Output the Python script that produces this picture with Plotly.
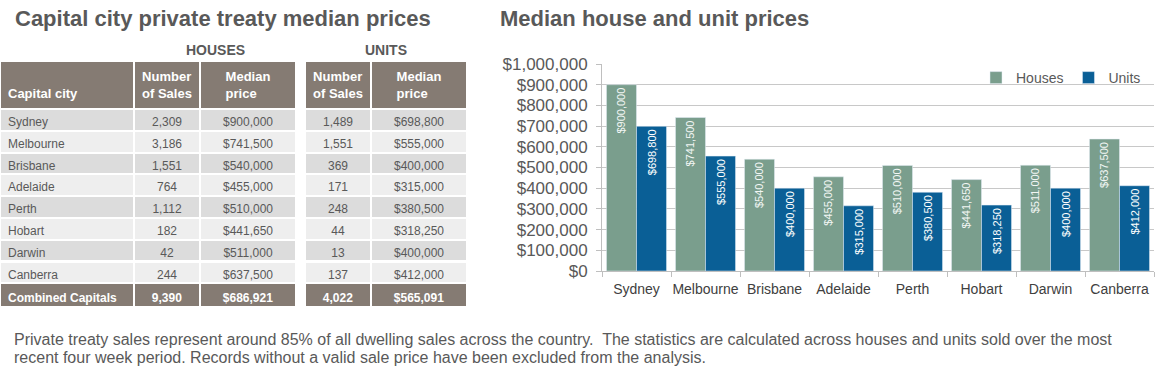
import plotly.graph_objects as go

# ---------------- data ----------------
cities = ["Sydney", "Melbourne", "Brisbane", "Adelaide", "Perth", "Hobart", "Darwin", "Canberra"]
house_sales = [2309, 3186, 1551, 764, 1112, 182, 42, 244]
house_median = [900000, 741500, 540000, 455000, 510000, 441650, 511000, 637500]
unit_sales = [1489, 1551, 369, 171, 248, 44, 13, 137]
unit_median = [698800, 555000, 400000, 315000, 380500, 318250, 400000, 412000]
combined_label = "Combined Capitals"
combined_house_sales = 9390
combined_house_median = 686921
combined_unit_sales = 4022
combined_unit_median = 565091
y_ticks = [0, 100000, 200000, 300000, 400000, 500000, 600000, 700000, 800000, 900000, 1000000]

W, H = 1160, 379
FONT = "Liberation Sans, Arial, sans-serif"
NARROW = "Liberation Sans Narrow, Arial Narrow, sans-serif"
GREY = "#595959"
HOUSE_C = "#7a9e8d"
UNIT_C = "#0a5f96"
HEAD_C = "#857b73"
ROW_DARK = "#dcdcdc"
ROW_LIGHT = "#eeeeee"


def px_x(x):
    return max(0.0, min(1.0, x / W))


def px_y(y):
    return max(0.0, min(1.0, 1 - y / H))


def money(v):
    return "${:,}".format(v)


n = len(cities)
row_fill = [ROW_DARK if i % 2 == 0 else ROW_LIGHT for i in range(n)] + [HEAD_C]
row_font = [GREY] * n + ["white"]

fig = go.Figure()

# ---------------- tables ----------------
col_city = cities + ["<b>" + combined_label + "</b>"]
col_hs = ["{:,}".format(v) for v in house_sales] + ["<b>{:,}</b>".format(combined_house_sales)]
col_hm = [money(v) for v in house_median] + ["<b>" + money(combined_house_median) + "</b>"]
col_us = ["{:,}".format(v) for v in unit_sales] + ["<b>{:,}</b>".format(combined_unit_sales)]
col_um = [money(v) for v in unit_median] + ["<b>" + money(combined_unit_median) + "</b>"]

TAB_TOP, TAB_BOT = 61, 306

fig.add_trace(go.Table(
    domain=dict(x=[px_x(0), px_x(296)], y=[px_y(TAB_BOT), px_y(TAB_TOP)]),
    columnwidth=[134, 66, 96],
    header=dict(
        values=["\u00a0<br><b>Capital city</b>", "<b>Number<br>of Sales</b>", "<b>Median<br>price</b>"],
        fill_color=HEAD_C, line=dict(color="white", width=2),
        align=["left", "center", "center"], height=42,
        font=dict(family=FONT, size=13, color="white"),
    ),
    cells=dict(
        values=[col_city, col_hs, col_hm],
        fill_color=[row_fill, row_fill, row_fill],
        line=dict(color="white", width=2),
        align=["left", "center", "center"], height=21.8,
        font=dict(family=FONT, size=12, color=[row_font, row_font, row_font]),
    ),
))

fig.add_trace(go.Table(
    domain=dict(x=[px_x(305), px_x(468)], y=[px_y(TAB_BOT), px_y(TAB_TOP)]),
    columnwidth=[66, 96],
    header=dict(
        values=["<b>Number<br>of Sales</b>", "<b>Median<br>price</b>"],
        fill_color=HEAD_C, line=dict(color="white", width=2),
        align="center", height=42,
        font=dict(family=FONT, size=13, color="white"),
    ),
    cells=dict(
        values=[col_us, col_um],
        fill_color=[row_fill, row_fill],
        line=dict(color="white", width=2),
        align="center", height=21.8,
        font=dict(family=FONT, size=12, color=[row_font, row_font]),
    ),
))

# ---------------- bar chart ----------------
fig.add_trace(go.Bar(
    x=cities, y=house_median, name="Houses", marker_color=HOUSE_C,
    texttemplate="$%{y:,}", textposition="inside", insidetextanchor="end",
    textangle=-90, textfont=dict(family=FONT, size=11, color="#f2f6f4"),
    cliponaxis=False,
))
fig.add_trace(go.Bar(
    x=cities, y=unit_median, name="Units", marker_color=UNIT_C,
    texttemplate="$%{y:,}", textposition="inside", insidetextanchor="end",
    textangle=-90, textfont=dict(family=FONT, size=11, color="white"),
    cliponaxis=False,
))

fig.update_layout(
    width=W, height=H,
    margin=dict(l=0, r=0, t=0, b=0, autoexpand=False),
    paper_bgcolor="white", plot_bgcolor="white",
    font=dict(family=FONT, color=GREY),
    barmode="group", bargap=0.13, bargroupgap=0,
    showlegend=True,
    legend=dict(
        orientation="h", x=px_x(1146), y=px_y(62), xanchor="right", yanchor="top",
        font=dict(family=FONT, size=14, color=GREY), itemwidth=30,
        bgcolor="rgba(0,0,0,0)", traceorder="normal",
    ),
    xaxis=dict(
        domain=[px_x(602), px_x(1154)],
        tickson="boundaries", ticks="outside", ticklen=5, tickcolor="#bfbfbf",
        showline=True, linecolor="#bfbfbf", linewidth=1, tickangle=0,
        tickfont=dict(family=FONT, size=14, color="#404040"),
        showgrid=False, automargin=False, ticklabelstandoff=5,
    ),
    yaxis=dict(
        domain=[px_y(271), px_y(64)],
        range=[0, 1000000], tickvals=y_ticks, tickformat="$,",
        ticks="outside", ticklen=5, tickcolor="#bfbfbf",
        showline=True, linecolor="#bfbfbf", linewidth=1,
        gridcolor="#c8c8c8", gridwidth=1, zeroline=False,
        tickfont=dict(family=FONT, size=17, color=GREY),
        ticklabelstandoff=5, automargin=False,
    ),
)

# ---------------- text annotations ----------------
ann = [
    dict(text="<b>Capital city private treaty median prices</b>", x=px_x(13), y=px_y(18),
         xanchor="left", yanchor="middle", font=dict(family=FONT, size=22, color=GREY)),
    dict(text="<b>Median house and unit prices</b>", x=px_x(498), y=px_y(18),
         xanchor="left", yanchor="middle", font=dict(family=FONT, size=22, color=GREY)),
    dict(text="<b>HOUSES</b>", x=px_x(215), y=px_y(50), xanchor="center", yanchor="middle",
         font=dict(family=FONT, size=14, color=GREY)),
    dict(text="<b>UNITS</b>", x=px_x(386), y=px_y(50), xanchor="center", yanchor="middle",
         font=dict(family=FONT, size=14, color=GREY)),
    dict(text="Private treaty sales represent around 85% of all dwelling sales across the country.  "
              "The statistics are calculated across houses and units sold over the most",
         x=px_x(12), y=px_y(339), xanchor="left", yanchor="middle",
         font=dict(family=NARROW, size=16, color=GREY)),
    dict(text="recent four week period. Records without a valid sale price have been excluded from the analysis.",
         x=px_x(12), y=px_y(357), xanchor="left", yanchor="middle",
         font=dict(family=NARROW, size=16, color=GREY)),
]
for a in ann:
    a.update(xref="paper", yref="paper", showarrow=False)
fig.update_layout(annotations=ann)

fig.write_html(
    "out.html",
    config={"displayModeBar": False},
    post_script="document.body.style.margin='0';document.body.style.overflow='hidden';",
)
